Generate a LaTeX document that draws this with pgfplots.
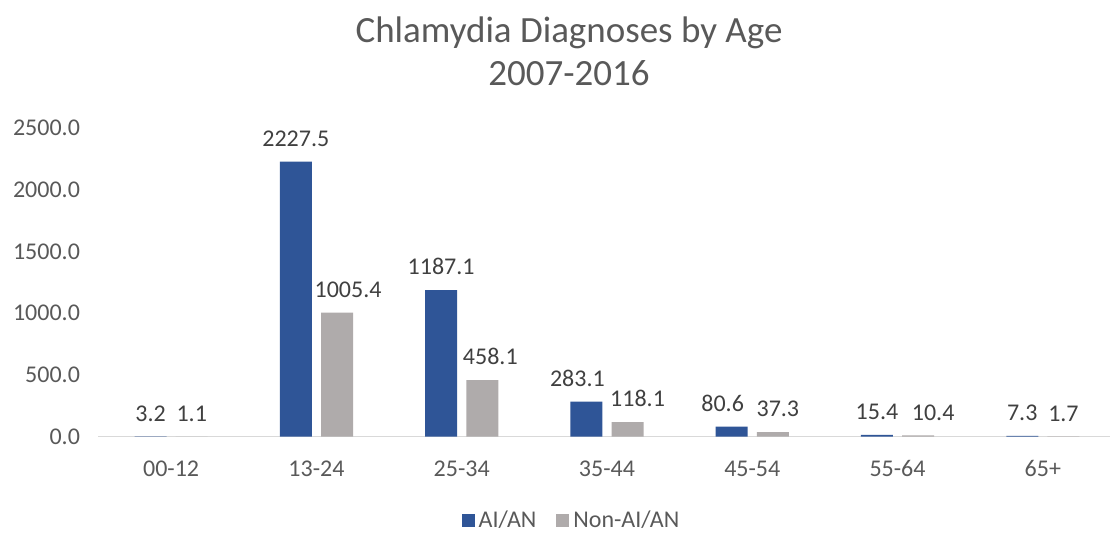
\documentclass[border=0pt]{standalone}
\usepackage{pgfplots}
\usepackage{pgfplotstable}
\pgfplotsset{compat=1.18}
\usepackage{fontspec}
\setmainfont{Carlito}
\definecolor{aian}{RGB}{47,85,151}
\definecolor{nonaian}{RGB}{175,171,171}
\definecolor{txt}{RGB}{89,89,89}
\definecolor{lbl}{RGB}{64,64,64}
\definecolor{axisline}{RGB}{217,217,217}

% x = age group index, y = diagnoses, dx = label nudge (pt)
\pgfplotstableread{
x y dx
0 3.2 0
1 2227.5 0
2 1187.1 0
3 283.1 -4.5
4 80.6 -4.5
5 15.4 0
6 7.3 0
}\aian
\pgfplotstableread{
x y dx
0 1.1 0
1 1005.4 5.5
2 458.1 4
3 118.1 5
4 37.3 2.5
5 10.4 7.5
6 1.7 0
}\nonaian

\begin{document}
\begin{tikzpicture}
\useasboundingbox (0,0) rectangle (555pt,267pt);
\begin{axis}[
  at={(49.25pt,48.65pt)}, anchor=south west,
  scale only axis, width=508.5pt, height=154.3pt,
  xmin=-0.5, xmax=6.5, ymin=0, ymax=2500,
  ybar=4.6pt, bar width=16pt,
  axis x line*=bottom, axis y line*=left,
  x axis line style={draw=axisline, line width=0.75pt},
  y axis line style={draw=none},
  major tick length=0pt,
  xtick={0,...,6},
  xticklabels={00-12,13-24,25-34,35-44,45-54,55-64,65+},
  ytick={0,500,...,2500},
  tick label style={font=\fontsize{12}{14}\selectfont, text=txt},
  xticklabel style={yshift=-8.5pt},
  yticklabel style={xshift=-5.75pt},
  /pgf/number format/fixed,
  /pgf/number format/fixed zerofill,
  /pgf/number format/precision=1,
  /pgf/number format/1000 sep={},
  /pgf/number format/assume math mode=true,
  nodes near coords,
  visualization depends on={\thisrow{dx} \as \dx},
  nodes near coords style={font=\fontsize{12}{14}\selectfont, text=lbl,
    anchor=south, yshift=4pt, xshift=\dx pt},
  legend columns=2,
  legend style={draw=none, fill=none, at={(0.466,-0.2715)}, anchor=center,
    font=\fontsize{12}{14}\selectfont, text=txt,
    /tikz/every even column/.append style={column sep=8pt}},
  legend image code/.code={\fill[#1] (0pt,-3.25pt) rectangle (6.5pt,3.25pt);},
]
\addplot[fill=aian, draw=none] table[x=x, y=y] {\aian};
\addplot[fill=nonaian, draw=none] table[x=x, y=y] {\nonaian};
\legend{AI/AN, Non-AI/AN}
\end{axis}
\node[text=txt, font=\fontsize{18.5}{21.5}\selectfont, align=center] at (284.5pt,241.25pt)
  {Chlamydia Diagnoses by Age\\2007-2016};
\end{tikzpicture}
\end{document}
